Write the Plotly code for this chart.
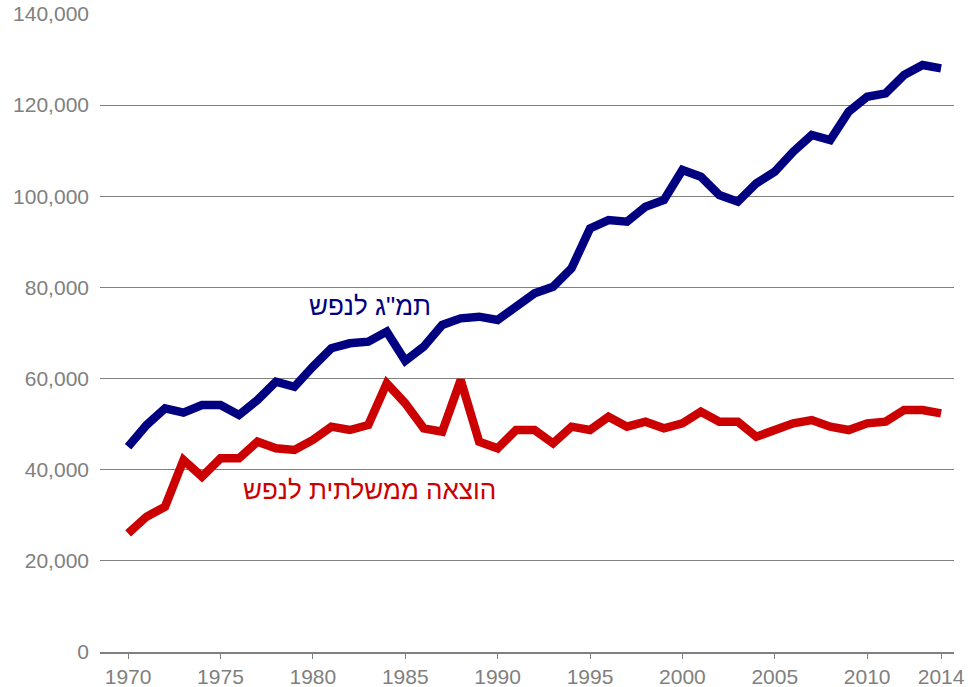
import plotly.graph_objects as go

years = list(range(1970, 2015))

# GDP per capita
gdp_per_capita = [
    45050, 49800, 53480, 52530, 54200, 54200, 52000, 55300, 59300, 58200,
    62600, 66650, 67740, 68100, 70300, 63900, 67000, 71760, 73220, 73580,
    72850, 75770, 78700, 80160, 84180, 92960, 94790, 94420, 97720, 99180,
    105760, 104300, 100290, 98820, 102850, 105400, 109790, 113450, 112350, 118560,
    121850, 122590, 126600, 128800, 128080,
]

# Government expenditure per capita
gov_spending_per_capita = [
    26050, 29700, 31900, 42130, 38470, 42490, 42490, 46150, 44700, 44330,
    46520, 49440, 48710, 49810, 58960, 54570, 49080, 48350, 59690, 46150,
    44700, 48710, 48710, 45790, 49440, 48710, 51630, 49440, 50540, 49080,
    50170, 52730, 50540, 50540, 47250, 48710, 50170, 50900, 49440, 48710,
    50170, 50540, 53100, 53100, 52370,
]

y_ticks = [0, 20000, 40000, 60000, 80000, 100000, 120000, 140000]
x_ticks = [1970, 1975, 1980, 1985, 1990, 1995, 2000, 2005, 2010, 2014]

label_gdp = 'תמ"ג לנפש'
label_gov = "הוצאה ממשלתית לנפש"

NAVY = "#000080"
RED = "#CC0000"
GRAY = "#808080"

fig = go.Figure()
fig.add_trace(go.Scatter(x=years, y=gdp_per_capita, mode="lines",
                         line=dict(color=NAVY, width=8.5), name=label_gdp))
fig.add_trace(go.Scatter(x=years, y=gov_spending_per_capita, mode="lines",
                         line=dict(color=RED, width=8.5), name=label_gov))

# Direct labels next to each line
fig.add_annotation(x=1983.1, y=75900, text=label_gdp, showarrow=False,
                   font=dict(color=NAVY, size=26, family="Liberation Sans"),
                   xanchor="center", yanchor="middle")
fig.add_annotation(x=1983.05, y=35600, text=label_gov, showarrow=False,
                   font=dict(color=RED, size=26, family="Liberation Sans"),
                   xanchor="center", yanchor="middle")

fig.update_layout(
    width=968, height=687,
    margin=dict(l=100, r=14, t=14, b=35),
    paper_bgcolor="white", plot_bgcolor="white",
    showlegend=False,
    font=dict(family="Liberation Sans", size=21, color=GRAY),
)
fig.update_xaxes(
    range=[1968.48, 2014.7], tickvals=x_ticks, ticktext=[str(v) for v in x_ticks],
    showgrid=False, zeroline=False, showline=True, linecolor=GRAY, linewidth=1.5,
    ticks="outside", ticklen=5, tickcolor=GRAY, tickfont=dict(size=21, color=GRAY),
    automargin=False,
)
fig.update_yaxes(
    range=[0, 140000], tickvals=y_ticks, tickformat=",",
    showgrid=True, gridcolor=GRAY, gridwidth=1, zeroline=False,
    showline=False, ticks="", tickfont=dict(size=21, color=GRAY),
    ticklabelstandoff=10, automargin=False,
)

fig.write_html("out.html")
